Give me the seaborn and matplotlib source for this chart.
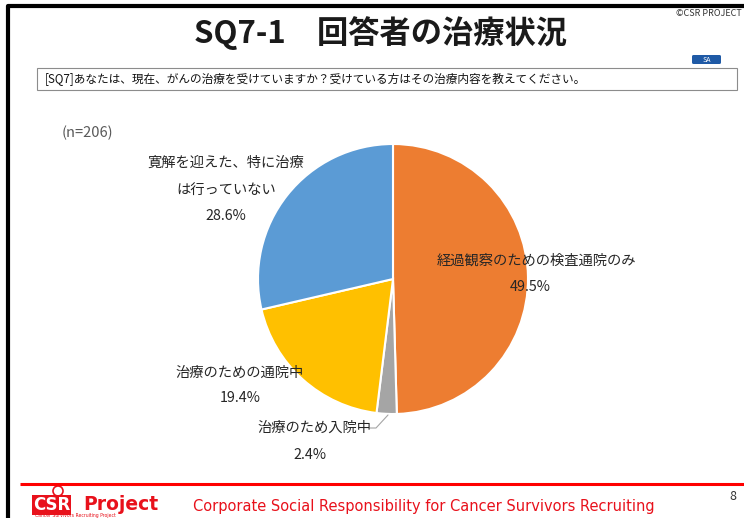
import matplotlib
matplotlib.use("Agg")
import matplotlib.pyplot as plt
import seaborn as sns
from matplotlib.patches import Rectangle, FancyBboxPatch, Circle

sns.set_theme(style="white")
plt.rcParams['font.family'] = ['Noto Sans CJK JP', 'DejaVu Sans']

# data
categories = ["経過観察のための検査通院のみ", "治療のため入院中", "治療のための通院中", "寛解を迎えた、特に治療\nは行っていない"]
shares = [49.5, 2.4, 19.4, 28.6]
colors = ["#ED7D31", "#A5A5A5", "#FFC000", "#5B9BD5"]
n_total = 206

W, H = 744, 518
fig = plt.figure(figsize=(W / 100, H / 100), dpi=100)
ax = fig.add_axes([0, 0, 1, 1])

def Y(y):
    return H - y

ax.pie(shares, colors=colors, startangle=90, counterclock=False,
       center=(393, Y(279)), radius=135,
       wedgeprops=dict(edgecolor="white", linewidth=1.5))
ax.set_xlim(0, W)
ax.set_ylim(0, H)
ax.set_aspect("equal")
ax.axis("off")

# frame
ax.plot([7.5, 7.5, W], [0, Y(5.5), Y(5.5)], color="black", lw=3, solid_capstyle="butt")

# title
ax.text(381, Y(33), "SQ7-1　回答者の治療状況", ha="center", va="center",
        fontsize=22.5, fontweight="bold", color="#1a1a1a")
ax.text(742, Y(14), "©CSR PROJECT", ha="right", va="center", fontsize=6.5, color="#333333")

# SA badge
ax.add_patch(FancyBboxPatch((692, Y(64)), 29, 9, boxstyle="round,pad=0,rounding_size=1.5",
                            facecolor="#1F5AA6", edgecolor="none"))
ax.text(706.5, Y(59.5), "SA", ha="center", va="center", fontsize=5, color="white")

# question box
ax.add_patch(Rectangle((37, Y(90)), 700, 22, facecolor="white", edgecolor="#8c8c8c", lw=0.8))
ax.text(45, Y(79), "[SQ7]あなたは、現在、がんの治療を受けていますか？受けている方はその治療内容を教えてください。",
        ha="left", va="center", fontsize=8.4, color="#111111")

ax.text(62, Y(133), f"(n={n_total})", ha="left", va="center", fontsize=10.5, color="#595959")

# slice labels
lab_kw = dict(ha="center", va="center", fontsize=10.3, color="#262626")
ax.text(536, Y(261), categories[0], **lab_kw)
ax.text(530, Y(287), f"{shares[0]:.1f}%", **lab_kw)
ax.text(314, Y(428), categories[1], **lab_kw)
ax.text(310, Y(455), f"{shares[1]:.1f}%", **lab_kw)
ax.text(240, Y(373), categories[2], **lab_kw)
ax.text(240, Y(398), f"{shares[2]:.1f}%", **lab_kw)
first, second = categories[3].split("\n")
ax.text(226, Y(163), first, **lab_kw)
ax.text(226, Y(190), second, **lab_kw)
ax.text(226, Y(216), f"{shares[3]:.1f}%", **lab_kw)
ax.plot([370, 376, 388], [Y(428), Y(428), Y(415)], color="#A5A5A5", lw=0.8)

# footer
ax.plot([20, W], [Y(484), Y(484)], color="#FF0000", lw=2.2, solid_capstyle="butt")
ax.add_patch(Circle((58, Y(491)), 5, facecolor="white", edgecolor="#E8111B", lw=1.2))
ax.text(33, Y(505), "CSR", ha="left", va="center", fontsize=12, fontweight="bold",
        color="white", family="DejaVu Sans",
        bbox=dict(boxstyle="square,pad=0.05", facecolor="#E8111B", edgecolor="none"))
ax.text(83, Y(504), "Project", ha="left", va="center", fontsize=13.5, fontweight="bold",
        color="#E8111B", family="DejaVu Sans")
ax.text(35, Y(516), "Cancer Survivors Recruiting Project", ha="left", va="center",
        fontsize=3.3, color="#E8111B", family="DejaVu Sans")
ax.text(193, Y(506), "Corporate Social Responsibility for Cancer Survivors Recruiting",
        ha="left", va="center", fontsize=10.5, color="#E8111B", family="DejaVu Sans")
ax.text(733, Y(497), "8", ha="center", va="center", fontsize=9, color="#333333")

fig.savefig("out.png", dpi=100, facecolor="white")
